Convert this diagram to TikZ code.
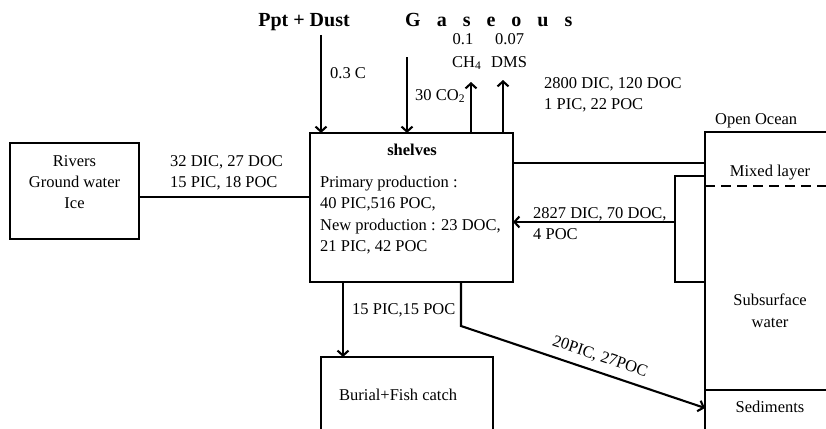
\documentclass[tikz,border=0pt]{standalone}
\usepackage{fontspec}
\setmainfont{Liberation Serif}
\usetikzlibrary{arrows.meta}
\begin{document}
\begin{tikzpicture}[x=1pt,y=-1pt,
  font=\fontsize{16.5}{21.5}\selectfont,
  box/.style={draw,line width=2.1pt,inner sep=0,outer sep=0},
  wire/.style={line width=2.1pt},
  arr/.style={line width=2.1pt,-{Straight Barb[length=5pt,width=11pt]}},
  txt/.style={inner sep=0,anchor=base},
  txtl/.style={inner sep=0,anchor=base west},
  head/.style={inner sep=0,font=\fontsize{20}{24}\selectfont\bfseries}]
\useasboundingbox (0,0) rectangle (826,428);

% boxes
\node[box,minimum width=129pt,minimum height=96pt] (rivers) at (74.5,191) {};
\node[box,minimum width=203pt,minimum height=149pt] (shelves) at (411.5,207.5) {};
\node[box,minimum width=172pt,minimum height=120pt] (burial) at (407,417) {};
\node[box,minimum width=200pt,minimum height=360pt] (ocean) at (805,312) {};

% ocean internal lines
\draw[wire,dash pattern=on 10pt off 6pt] (705,186) -- (826,186);
\draw[wire] (705,390) -- (826,390);

% headings
\node[head,txt] (ppt) at (304,27) {Ppt + Dust};
\node[head,txtl] (gas) at (405,27) {\spaceskip=16pt\relax G a s e o u s};

% top arrows
\coordinate (pptA) at (321,35);
\draw[arr] (pptA) -- (pptA |- shelves.north);
\coordinate (co2A) at (407,57);
\draw[arr] (co2A) -- (co2A |- shelves.north);
\coordinate (ch4A) at (471,82);
\draw[arr] (ch4A |- shelves.north) -- (ch4A);
\coordinate (dmsA) at (503,80);
\draw[arr] (dmsA |- shelves.north) -- (dmsA);

\node[txtl] (t03) at (330,78) {0.3 C};
\node[txtl] (tco2) at (415,100) {30 CO\textsubscript{2}};
\node[txt] (t01) at (463,45) {0.1};
\node[txtl] (tch4) at (452,67) {CH\textsubscript{4}};
\node[txtl] (t007) at (495,45) {0.07};
\node[txtl] (tdms) at (491,67) {DMS};
\node[txtl] (t2800) at (544,88) {2800 DIC, 120 DOC};
\node[txtl] (t1pic) at (544,109) {1 PIC, 22 POC};

% rivers
\node[txt] (rv1) at (74.5,166) {Rivers};
\node[txt] (rv2) at (74.5,187) {Ground water};
\node[txt] (rv3) at (74.5,208) {Ice};
\coordinate (rvA) at (140,197);
\draw[wire] (rvA) -- (rvA -| shelves.west);
\node[txtl] (t32) at (170,166) {32 DIC, 27 DOC};
\node[txtl] (t15) at (170,187) {15 PIC, 18 POC};

% shelves text
\node[txt,font=\fontsize{16.5}{21.5}\selectfont\bfseries] (sh) at (412,155) {shelves};
\node[txtl] (sh1) at (320,187) {Primary production :};
\node[txtl] (sh2) at (320,208) {40 PIC,516 POC,};
\node[txtl] (sh3) at (320,230) {New production : 23 DOC,};
\node[txtl] (sh4) at (320,251) {21 PIC, 42 POC};

% shelves <-> ocean
\coordinate (topL) at (0,163);
\draw[wire] (shelves.east |- topL) -- (ocean.west |- topL);
\coordinate (in1) at (675,176);
\coordinate (in2) at (675,282);
\draw[wire] (ocean.west |- in1) -- (in1) -- (in2) -- (ocean.west |- in2);
\coordinate (retA) at (675,222);
\draw[arr] (retA) -- (retA -| shelves.east);
\node[txtl] (t2827) at (533,218) {2827 DIC, 70 DOC,};
\node[txtl] (t4poc) at (533,239) {4 POC};

% ocean labels
\node[txtl] (oo) at (715,124) {Open Ocean};
\node[txt] (ml) at (770,176) {Mixed layer};
\node[txt] (ss1) at (770,305) {Subsurface};
\node[txt] (ss2) at (770,327) {water};
\node[txt] (sed) at (770,412) {Sediments};

% bottom
\coordinate (burA) at (343,0);
\draw[arr] (burA |- shelves.south) -- (burA |- burial.north);
\node[txtl] (t15b) at (352,314) {15 PIC,15 POC};
\node[txtl] (bur) at (339,400) {Burial+Fish catch};
\coordinate (dg1) at (461,326);
\coordinate (dg2) at (705,408);
\draw[arr] (dg1 |- shelves.south) -- (dg1) -- (dg2);
\node[inner sep=0,rotate=-18.6] (t20) at (600,357) {20PIC, 27POC};
\end{tikzpicture}
\end{document}
